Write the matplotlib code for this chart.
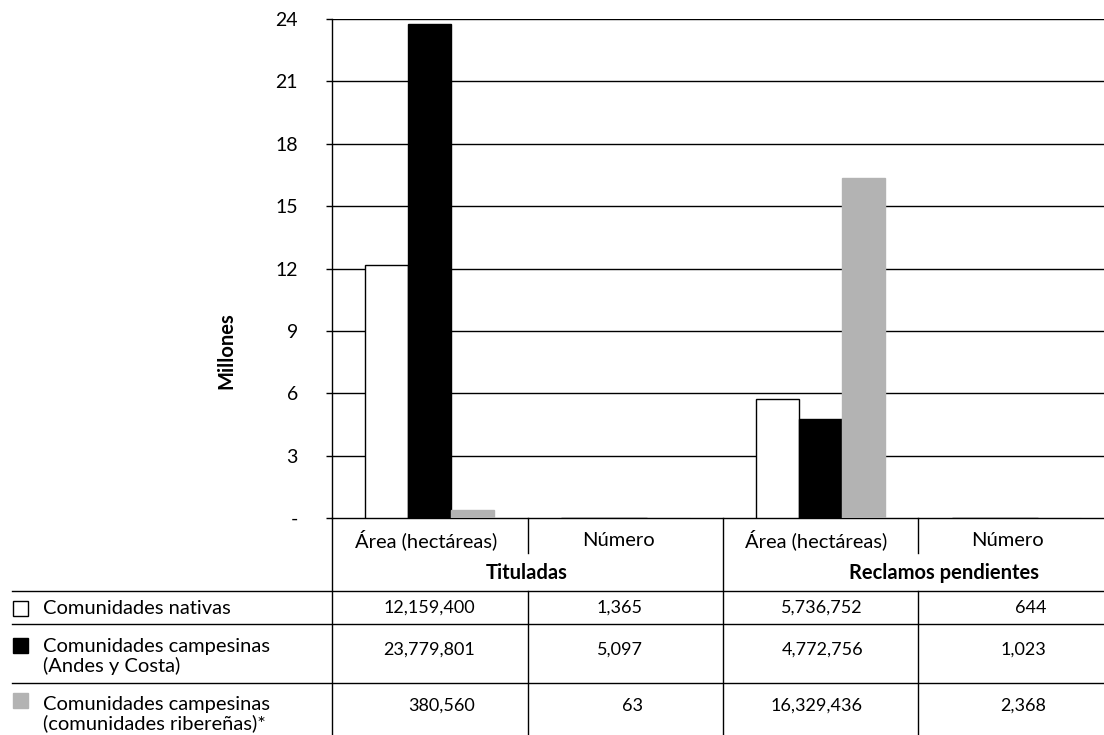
import numpy as np
import matplotlib
matplotlib.use("Agg")
import matplotlib.pyplot as plt
from matplotlib.patches import Rectangle

plt.rcParams['font.family'] = ['Lato', 'DejaVu Sans']

# data: hectares and counts per community type
columnas = ["Área (hectáreas)", "Número", "Área (hectáreas)", "Número"]
grupos = ["Tituladas", "Reclamos pendientes"]
series = ["Comunidades nativas",
          "Comunidades campesinas\n(Andes y Costa)",
          "Comunidades campesinas\n(comunidades ribereñas)*"]
nativas = [12159400, 1365, 5736752, 644]
andes = [23779801, 5097, 4772756, 1023]
riberenas = [380560, 63, 16329436, 2368]
colores = ["white", "black", "#b3b3b3"]
bordes = ["black", "black", "#b3b3b3"]
yticks = [0, 3, 6, 9, 12, 15, 18, 21, 24]
ytick_labels = ["-", "3", "6", "9", "12", "15", "18", "21", "24"]

FS = 14.5     # labels
FN = 13       # table numbers

W, H = 1104, 735
fig = plt.figure(figsize=(W / 100, H / 100), dpi=100)

# chart area in pixels
x0, y0, y1 = 332, 518, 19
cat_w = 195.5
ax = fig.add_axes([x0 / W, (H - y0) / H, (W - x0) / W, (y0 - y1) / H])

x = np.arange(len(columnas))
bw = 0.22
for k, vals in enumerate([nativas, andes, riberenas]):
    ax.bar(x + (k - 1) * bw, np.array(vals) / 1e6, width=bw,
           color=colores[k], edgecolor=bordes[k], linewidth=1.0, zorder=3)

ax.set_xlim(-0.5, -0.5 + (W - x0) / cat_w)
ax.set_ylim(0, 24)
ax.set_yticks(yticks)
ax.set_yticklabels(ytick_labels, fontsize=14)
ax.tick_params(axis='y', length=4.5, width=1, pad=20)
ax.set_xticks([])
for y in yticks[1:]:
    ax.axhline(y, color='black', linewidth=1.0, zorder=1)
for s in ['top', 'right']:
    ax.spines[s].set_visible(False)
ax.spines['left'].set_linewidth(1.0)
ax.spines['bottom'].set_linewidth(1.0)

fig.text(226 / W, 1 - 351 / H, "Millones", rotation=90, ha='center',
         va='center', fontsize=FS, fontweight='bold')

# table under the chart, pixel coordinates
tb = fig.add_axes([0, 0, 1, 1], zorder=5)
tb.set_xlim(0, W)
tb.set_ylim(H, 0)
tb.axis('off')
tb.patch.set_alpha(0)

lw = 1.0
tb.plot([x0, x0], [y0, H], color='black', lw=lw)
tb.plot([723, 723], [y0, H], color='black', lw=lw)
for xv in [527.5, 917.5]:
    tb.plot([xv, xv], [y0, 553], color='black', lw=lw)
    tb.plot([xv, xv], [591, H], color='black', lw=lw)
for yv in [591, 624, 683]:
    tb.plot([12, W], [yv, yv], color='black', lw=lw)

col_centros = [426, 618, 816, 1007]
for cx, t in zip(col_centros, columnas):
    tb.text(cx, 540, t, ha='center', va='center', fontsize=FS)
for cx, g in zip([527, 944], grupos):
    tb.text(cx, 573, g, ha='center', va='center', fontsize=FS, fontweight='bold')

col_der = [475, 643, 863, 1046]
fila_y = [608, 650, 706]
texto_y = [608, 656.5, 714]
cuadro_y = [608, 645, 700]
for r, vals in enumerate([nativas, andes, riberenas]):
    tb.add_patch(Rectangle((13, cuadro_y[r] - 7.5), 15, 15,
                           facecolor=colores[r], edgecolor=bordes[r], lw=1.0))
    tb.text(43, texto_y[r], series[r], ha='left', va='center', fontsize=FS,
            linespacing=1.1)
    for cx, v in zip(col_der, vals):
        tb.text(cx, fila_y[r], f"{v:,}", ha='right', va='center', fontsize=FN)

fig.savefig("out.png", dpi=100)
